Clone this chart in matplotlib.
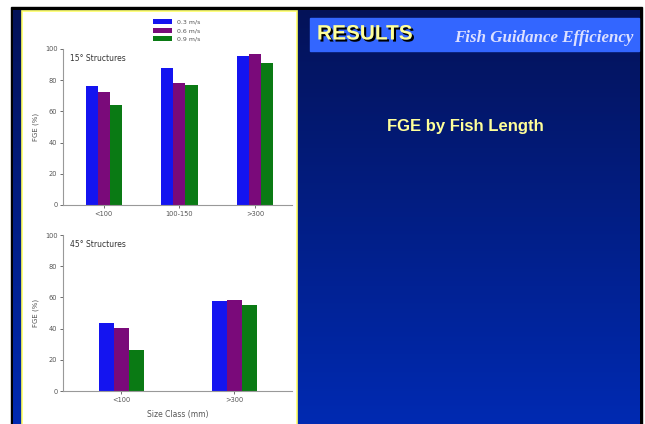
import matplotlib
matplotlib.use('Agg')
import matplotlib.pyplot as plt
import numpy as np
from matplotlib.patches import Rectangle
import matplotlib.patheffects as pe

# data
speeds = ['0.3 m/s', '0.6 m/s', '0.9 m/s']
colors = ['#1414f0', '#7a0a7a', '#0a7a14']

top_classes = ['<100', '100-150', '>300']
top_vals = [[76, 88, 95.5], [72.5, 78, 96.5], [64, 77, 91]]

bot_classes = ['<100', '>300']
bot_vals = [[43.5, 57.5], [40.5, 58.5], [26, 55]]

yticks = [0, 20, 40, 60, 80, 100]

W, H = 645, 424
fig = plt.figure(figsize=(W / 100, H / 100), dpi=100)
fig.patch.set_facecolor('white')

# slide background (pixel coords)
bg = fig.add_axes([0, 0, 1, 1])
bg.set_xlim(0, W)
bg.set_ylim(H, 0)
bg.axis('off')
bg.add_patch(Rectangle((11, 7), 631, 420, color='black'))
grad = np.linspace(0, 1, 256)[:, None]
top_c = np.array([4, 18, 88]) / 255
bot_c = np.array([0, 42, 178]) / 255
img = top_c[None, None, :] * (1 - grad[..., None]) + bot_c[None, None, :] * grad[..., None]
bg.imshow(img, extent=[13, 640, 424, 10], aspect='auto', zorder=1)
bg.add_patch(Rectangle((22, 11), 275, 420, facecolor='white', edgecolor='#ffff66', lw=1.2, zorder=2))
bg.add_patch(Rectangle((310, 18), 329, 33, color='#3366ff', zorder=2))
bg.text(317, 34, 'RESULTS', fontsize=15, fontweight='bold', color='#ffff99',
        family='Liberation Sans', va='center', zorder=3,
        path_effects=[pe.withSimplePatchShadow(offset=(1.5, -1.5), shadow_rgbFace='black', alpha=1)])
bg.text(633, 38, 'Fish Guidance Efficiency', fontsize=12.2, fontweight='bold', style='italic',
        color='#dde0ff', family='Liberation Serif', ha='right', va='center', zorder=3)
bg.text(465, 127, 'FGE by Fish Length', fontsize=12, fontweight='bold', color='#ffff99',
        family='Liberation Sans', ha='center', va='center', zorder=3)


def style_ax(ax):
    for s in ['top', 'right']:
        ax.spines[s].set_visible(False)
    for s in ['left', 'bottom']:
        ax.spines[s].set_color('#999999')
        ax.spines[s].set_linewidth(0.8)
    ax.set_ylim(0, 100)
    ax.set_yticks(yticks)
    ax.tick_params(labelsize=4.8, colors='#555555', length=2, width=0.6, pad=2)
    ax.set_facecolor('white')


# top chart: 15 degree structures
ax1 = fig.add_axes([63 / W, 1 - 205 / H, 229 / W, 156 / H])
x1 = np.arange(len(top_classes))
bw1 = 0.16
for i in range(3):
    ax1.bar(x1 + (i - 1) * bw1, top_vals[i], bw1, color=colors[i], label=speeds[i])
ax1.set_xticks(x1)
ax1.set_xticklabels(top_classes)
ax1.set_xlim(-0.54, 2.49)
style_ax(ax1)
ax1.set_ylabel('FGE (%)', fontsize=5, color='#555555', labelpad=4)
ax1.text(0.03, 0.97, '15° Structures', transform=ax1.transAxes, fontsize=5.5,
         color='#333333', va='top')
ax1.legend(loc='lower left', bbox_to_anchor=(150 / W, 1 - 45 / H), bbox_transform=fig.transFigure,
           fontsize=4.5, frameon=False, handlelength=3, handleheight=0.9,
           labelspacing=0.45, borderpad=0, handletextpad=0.8, labelcolor='#555555')

# bottom chart: 45 degree structures
ax2 = fig.add_axes([63 / W, 1 - 391 / H, 229 / W, 156 / H])
x2 = np.arange(len(bot_classes))
bw2 = 0.133
for i in range(3):
    ax2.bar(x2 + (i - 1) * bw2, bot_vals[i], bw2, color=colors[i])
ax2.set_xticks(x2)
ax2.set_xticklabels(bot_classes)
ax2.set_xlim(-0.518, 1.51)
style_ax(ax2)
ax2.set_ylabel('FGE (%)', fontsize=5, color='#555555', labelpad=4)
ax2.set_xlabel('Size Class (mm)', fontsize=5.5, color='#555555', labelpad=5)
ax2.text(0.03, 0.97, '45° Structures', transform=ax2.transAxes, fontsize=5.5,
         color='#333333', va='top')

fig.savefig('out.png', dpi=100)
